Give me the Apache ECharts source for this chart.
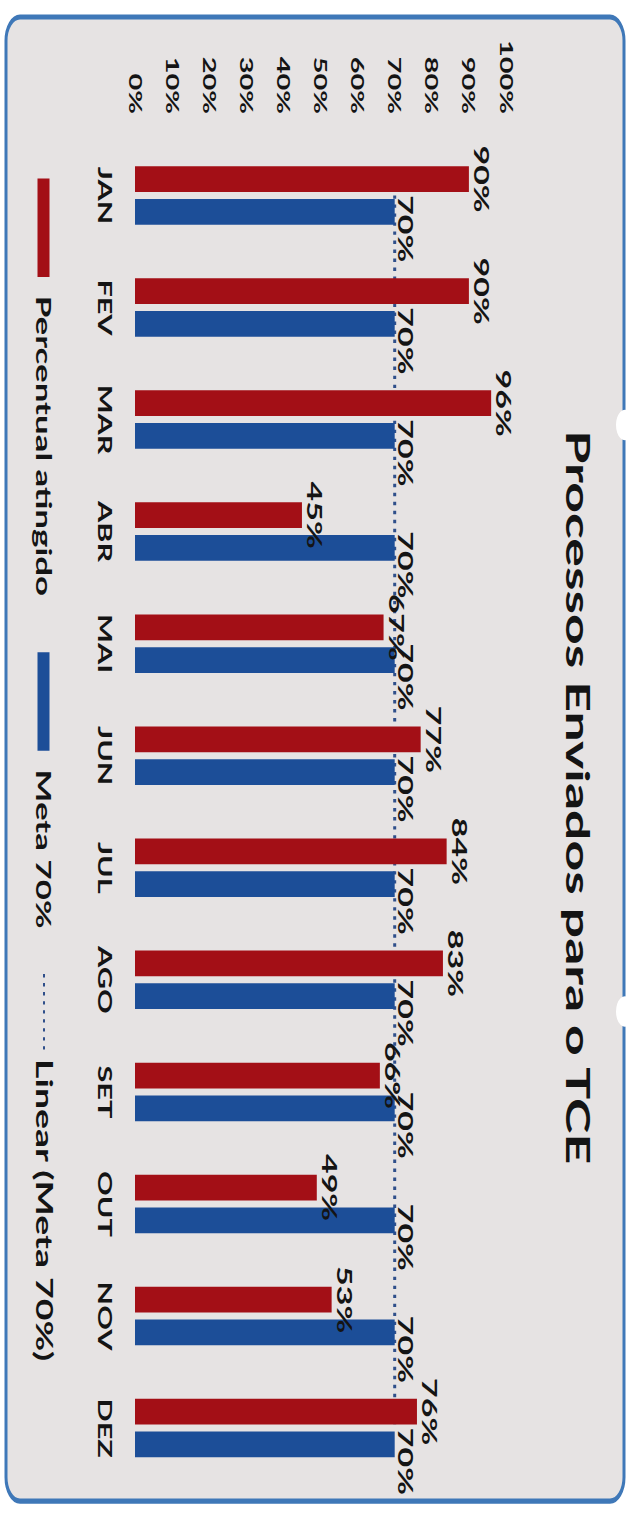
<!DOCTYPE html>
<html>
<head>
<meta charset="utf-8">
<script src="https://cdn.jsdelivr.net/npm/echarts@6/dist/echarts.min.js"></script>
<style>
  html, body { margin: 0; padding: 0; background: #ffffff; width: 630px; height: 1515px; overflow: hidden; }
  #chart { position: absolute; left: 0; top: 0; width: 891px; height: 630px;
           transform-origin: 0 0; transform: matrix(0, 1.7, -1, 0, 630, 0); }
</style>
</head>
<body>
<div id="chart"></div>
<script>
// ---- data ----
const categories = ['JAN', 'FEV', 'MAR', 'ABR', 'MAI', 'JUN', 'JUL', 'AGO', 'SET', 'OUT', 'NOV', 'DEZ'];
const percentualAtingido = [90, 90, 96, 45, 67, 77, 84, 83, 66, 49, 53, 76];
const meta70 = [70, 70, 70, 70, 70, 70, 70, 70, 70, 70, 70, 70];
const linearMeta70 = [70, 70, 70, 70, 70, 70, 70, 70, 70, 70, 70, 70];
const seriesNames = ['Percentual atingido', 'Meta 70%', 'Linear (Meta 70%)'];
const titleText = 'Processos Enviados para o TCE';
const valueMin = 0, valueMax = 100, valueInterval = 10;

const FONT = 'Lato';
const RED = '#a30f16';
const BLUE = '#1c4e98';
const LINE = '#2f4f8a';
const TXT = '#141414';

const legendText = { fontFamily: FONT, fontWeight: 'bold', fontSize: 20.5, color: TXT };

const chart = echarts.init(document.getElementById('chart'), null, { renderer: 'svg' });
chart.setOption({
  animation: false,
  backgroundColor: 'transparent',
  graphic: [
    { type: 'rect', z: -10, silent: true,
      shape: { x: 10, y: 6, width: 873, height: 618, r: 14 },
      style: { fill: '#e6e3e3', stroke: '#3f78b8', lineWidth: 3 } },
    { type: 'circle', z: -5, silent: true, shape: { cx: 250, cy: 5, r: 9 }, style: { fill: '#ffffff' } },
    { type: 'circle', z: -5, silent: true, shape: { cx: 595, cy: 5, r: 9 }, style: { fill: '#ffffff' } }
  ],
  title: {
    text: titleText,
    left: 464, textAlign: 'center', top: 31,
    textStyle: { fontFamily: FONT, fontWeight: 'bold', fontSize: 31.5, color: TXT }
  },
  legend: [
    { data: [seriesNames[0], seriesNames[1]],
      left: 100, top: 571, icon: 'rect',
      itemWidth: 58, itemHeight: 12, itemGap: 33,
      textStyle: Object.assign({ padding: [0, 0, 0, 6] }, legendText) },
    { data: [{ name: seriesNames[2], itemStyle: { opacity: 0 } }],
      left: 567, top: 570,
      itemWidth: 45, itemHeight: 12,
      textStyle: Object.assign({}, legendText, { fontSize: 22, padding: [0, 0, 0, 0] }) }
  ],
  grid: { left: 82, right: 18, top: 124, bottom: 135, containLabel: false },
  xAxis: {
    type: 'category', data: categories,
    axisLine: { show: false }, axisTick: { show: false },
    axisLabel: { margin: 21, fontFamily: FONT, fontWeight: 'bold', fontSize: 18, color: TXT }
  },
  yAxis: {
    type: 'value', min: valueMin, max: valueMax, interval: valueInterval,
    axisLine: { show: false }, axisTick: { show: false }, splitLine: { show: false },
    axisLabel: { margin: 15, formatter: '{value}%', fontFamily: FONT, fontWeight: 'bold', fontSize: 17, color: TXT }
  },
  series: [
    { name: seriesNames[0], type: 'bar', data: percentualAtingido, z: 3,
      barWidth: '23%', barGap: '27%',
      itemStyle: { color: RED },
      label: { show: true, position: 'top', distance: 3, formatter: '{c}%',
               fontFamily: FONT, fontWeight: 'bold', fontSize: 20, color: TXT } },
    { name: seriesNames[1], type: 'bar', data: meta70, z: 3,
      barWidth: '23%', barGap: '27%',
      itemStyle: { color: BLUE },
      label: { show: true, position: 'top', distance: 1, offset: [10, 0], formatter: '{c}%',
               fontFamily: FONT, fontWeight: 'bold', fontSize: 20, color: TXT } },
    { name: seriesNames[2], type: 'line', data: linearMeta70, z: 1,
      symbol: 'circle', symbolSize: 0, showSymbol: false,
      lineStyle: { color: LINE, width: 3, type: [2, 3.3] },
      itemStyle: { color: LINE } }
  ]
});
</script>
</body>
</html>
